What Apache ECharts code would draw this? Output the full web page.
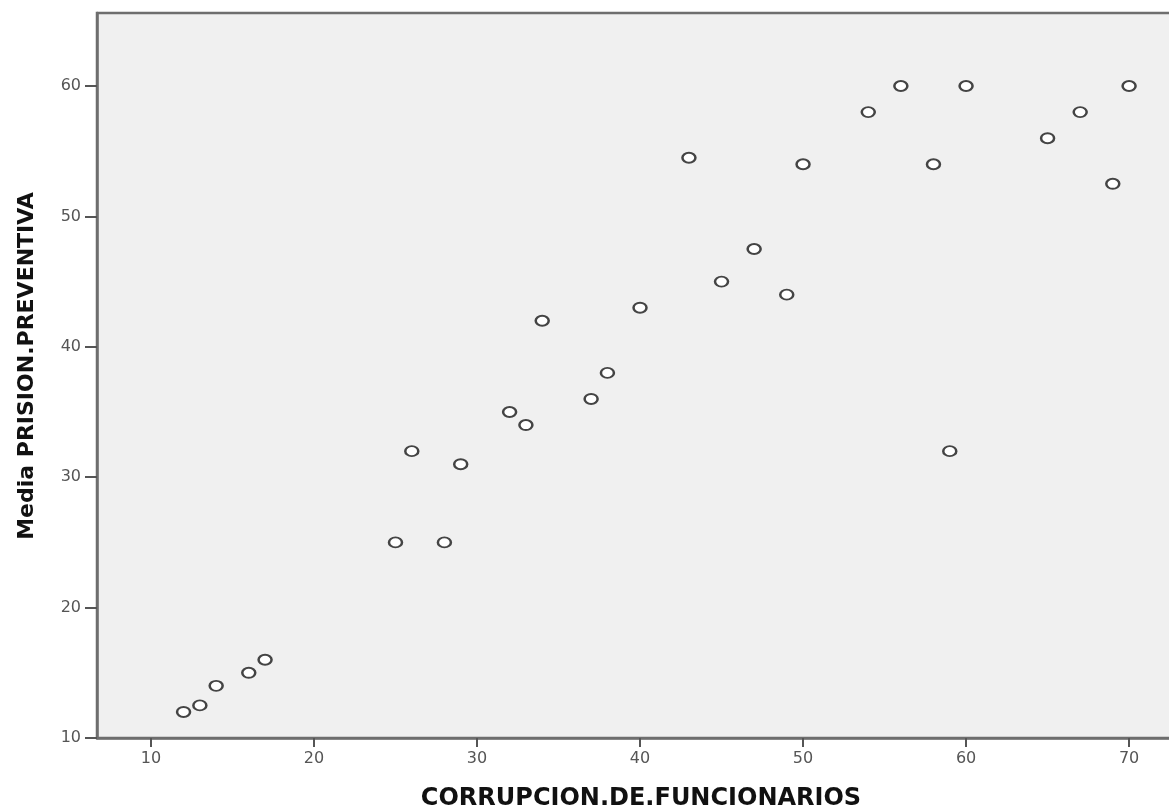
<!DOCTYPE html>
<html>
<head>
<meta charset="utf-8">
<script src="https://cdn.jsdelivr.net/npm/echarts@6/dist/echarts.min.js"></script>
<style>
html,body{margin:0;padding:0;background:#fff;}
#chart{width:1169px;height:812px;}
</style>
</head>
<body>
<div id="chart"></div>
<script>
var corrupcion = [12, 13, 14, 16, 17, 25, 26, 28, 29, 32, 33, 34, 37, 38, 40, 43, 45, 47, 49, 50, 54, 56, 58, 59, 60, 65, 67, 69, 70];
var prision    = [12, 12.5, 14, 15, 16, 25, 32, 25, 31, 35, 34, 42, 36, 38, 43, 54.5, 45, 47.5, 44, 54, 58, 60, 54, 32, 60, 56, 58, 52.5, 60];
var xTicks = [10, 20, 30, 40, 50, 60, 70];
var yTicks = [10, 20, 30, 40, 50, 60];
var xTitle = 'CORRUPCION.DE.FUNCIONARIOS';
var yTitle = 'Media PRISION.PREVENTIVA';

var points = corrupcion.map(function (x, i) { return [x, prision[i]]; });
var axisColor = '#6e6e6e';
var chart = echarts.init(document.getElementById('chart'));
chart.setOption({
  animation: false,
  backgroundColor: '#ffffff',
  grid: {
    left: 97, top: 13, right: -9, bottom: 74,
    outerBoundsMode: 'none',
    containLabel: false,
    show: true, backgroundColor: '#f0f0f0',
    borderColor: axisColor, borderWidth: 2.5
  },
  xAxis: {
    type: 'value', min: 6.69, max: 73,
    splitLine: { show: false },
    axisLine: { show: true, lineStyle: { color: axisColor, width: 2.5 } },
    axisTick: { show: true, length: 9, customValues: xTicks, lineStyle: { color: '#555', width: 2 } },
    axisLabel: { customValues: xTicks, margin: 13, fontSize: 16, fontFamily: 'DejaVu Sans', color: '#555' }
  },
  yAxis: {
    type: 'value', min: 10, max: 65.6,
    splitLine: { show: false },
    axisLine: { show: true, lineStyle: { color: axisColor, width: 2.5 } },
    axisTick: { show: true, length: 12, customValues: yTicks, lineStyle: { color: '#555', width: 2 } },
    axisLabel: { customValues: yTicks, margin: 16, fontSize: 16, fontFamily: 'DejaVu Sans', color: '#555' }
  },
  graphic: [
    { type: 'text', x: 641, y: 799, style: { text: xTitle, font: 'bold 24px "DejaVu Sans"', fill: '#111', textAlign: 'center', textVerticalAlign: 'middle' } },
    { type: 'text', x: 27, y: 366, rotation: Math.PI / 2, style: { text: yTitle, font: 'bold 22px "DejaVu Sans"', fill: '#111', textAlign: 'center', textVerticalAlign: 'middle' } }
  ],
  series: [{
    type: 'scatter',
    data: points,
    symbol: 'circle',
    symbolSize: [13, 10],
    itemStyle: { color: '#ffffff', borderColor: '#444', borderWidth: 2.2, opacity: 1 }
  }]
});
</script>
</body>
</html>
